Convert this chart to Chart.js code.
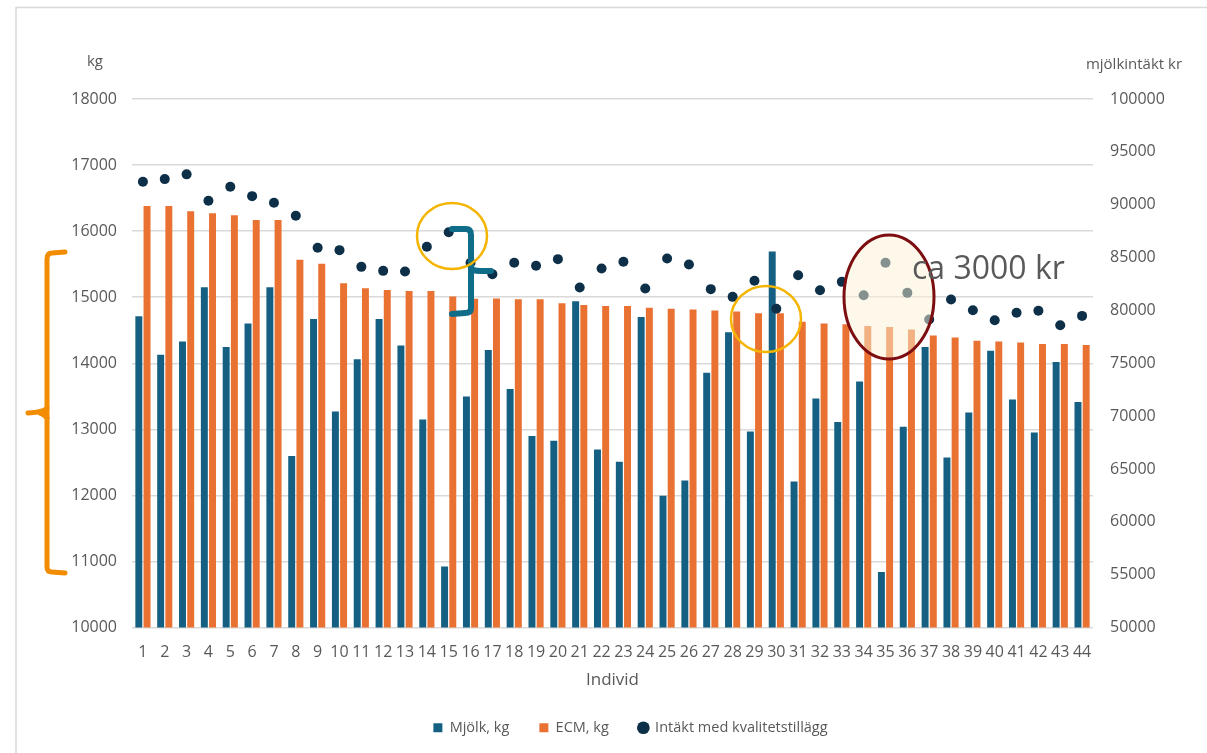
<!DOCTYPE html>
<html lang="sv">
<head>
<meta charset="UTF-8">
<title>Mjölk, ECM och intäkt per individ</title>
<script src="https://cdn.jsdelivr.net/npm/chart.js@4.4.1/dist/chart.umd.min.js"></script>
<style>
    html, body { margin:0; padding:0; background:#fff; }
</style>
</head>
<body>
<canvas id="myChart" width="1207" height="753"></canvas>
<script>
// individer 1..44
var v_labels = [];
for (var i = 1; i <= 44; i++) v_labels.push(String(i));

// Mjölk, kg (avläst)
var v_mjolk = [14710,14130,14330,15150,14245,14600,15150,12595,14670,13270,
               14060,14670,14270,13150,10925,13495,14200,13610,12900,12825,
               14940,12695,12510,14700,11995,12225,13855,14470,12965,15690,
               12210,13465,13110,13725,10840,13040,14245,12575,13255,14190,
               13450,12950,14020,13415];

// ECM, kg
var v_ecm = [16380,16380,16300,16270,16240,16170,16170,15565,15505,15210,
             15135,15110,15095,15095,15010,14975,14980,14970,14970,14910,
             14880,14865,14865,14840,14825,14815,14800,14785,14755,14755,
             14630,14600,14590,14565,14550,14510,14420,14390,14340,14330,
             14315,14290,14290,14275];

// Intäkt med kvalitetstillägg, kr (höger axel)
var v_intakt = [92170,92420,92870,90370,91700,90810,90180,88950,85920,85700,
                84120,83740,83680,86020,87400,84500,83430,84500,84220,84850,
                82170,83970,84600,82070,84910,84340,82010,81280,82800,80150,
                83330,81910,82700,81440,84500,81660,79140,81030,80020,79070,
                79770,79960,78600,79480];

var C_BLUE = '#156082';
var C_ORANGE = '#E97132';
var C_NAVY = '#0d3048';
var C_TEXT = '#595959';

Chart.defaults.font.family = "'Open Sans', 'Noto Sans', sans-serif";
Chart.defaults.color = C_TEXT;

// ritade markeringar ovanpå diagrammet
const notes = {
    id: 'notes',
    afterLayout(chart) {
        // legenden sitter lite till höger om mitten i originalet
        chart.legend.left += 27;
        chart.legend.right += 27;
    },
    beforeDraw(chart) {
        const c = chart.ctx;
        c.save();
        c.fillStyle = '#fff';
        c.fillRect(0, 0, chart.width, chart.height);
        c.strokeStyle = '#d9d9d9';
        c.lineWidth = 1.5;
        c.beginPath();
        c.moveTo(16, 760); c.lineTo(16, 7.5); c.lineTo(1207, 7.5);
        c.stroke();
        c.restore();
    },
    afterDatasetsDraw(chart) {
        const c = chart.ctx;
        c.save();
        c.lineCap = 'round';
        c.lineJoin = 'round';

        // orange hakparentes till vänster
        c.strokeStyle = '#F28C00';
        c.lineWidth = 5;
        c.beginPath();
        c.moveTo(65, 252);
        c.lineTo(52, 253);
        c.quadraticCurveTo(47, 253, 47, 259);
        c.lineTo(47, 567);
        c.quadraticCurveTo(47, 572, 52, 572);
        c.lineTo(65, 573);
        c.stroke();
        c.beginPath();
        c.moveTo(28, 413);
        c.quadraticCurveTo(44, 412, 47, 408);
        c.moveTo(47, 418);
        c.quadraticCurveTo(44, 414, 40, 413);
        c.stroke();

        // blå klammer
        c.strokeStyle = '#0f6d8a';
        c.lineWidth = 6;
        c.beginPath();
        c.moveTo(452, 229);
        c.lineTo(466, 229);
        c.quadraticCurveTo(471, 229, 471, 235);
        c.lineTo(471, 308);
        c.quadraticCurveTo(471, 313, 465, 313);
        c.lineTo(452, 314);
        c.moveTo(471, 268);
        c.quadraticCurveTo(473, 271, 480, 271);
        c.lineTo(491, 271);
        c.stroke();

        // gula ringar
        c.strokeStyle = '#F5B400';
        c.lineWidth = 2.5;
        c.beginPath();
        c.ellipse(452, 236, 35, 33, 0, 0, Math.PI * 2);
        c.stroke();
        c.beginPath();
        c.ellipse(766, 319, 35, 33, 0, 0, Math.PI * 2);
        c.stroke();

        // mörkröd ellips
        c.beginPath();
        c.ellipse(889, 297, 45, 62, 0, 0, Math.PI * 2);
        c.fillStyle = 'rgba(252,242,212,0.5)';
        c.fill();
        c.strokeStyle = '#7c0d10';
        c.lineWidth = 3;
        c.stroke();
        c.restore();
    },
    afterDraw(chart) {
        const c = chart.ctx;
        c.save();
        c.fillStyle = C_TEXT;
        c.textBaseline = 'middle';
        c.textAlign = 'center';
        c.font = "15px 'Open Sans', sans-serif";
        c.fillText('kg', 95, 62);
        c.fillText('mjölkintäkt kr', 1134, 65);
        c.textAlign = 'left';
        c.font = "32px 'Open Sans', sans-serif";
        c.fillText('ca 3000 kr', 912, 270);
        c.restore();
    }
};

function f_plain(v) { return String(v); } // inga tusentalsavgränsare

const ctx = document.getElementById('myChart').getContext('2d');
const myChart = new Chart(ctx, {
    type: 'bar',
    data: {
        labels: v_labels,
        datasets: [
            {
                label: 'Mjölk, kg',
                data: v_mjolk,
                backgroundColor: C_BLUE,
                yAxisID: 'y',
                order: 1,
                pointStyle: 'rect',
                categoryPercentage: 0.75,
                barPercentage: 0.85
            },
            {
                label: 'ECM, kg',
                data: v_ecm,
                backgroundColor: C_ORANGE,
                yAxisID: 'y',
                order: 1,
                pointStyle: 'rect',
                categoryPercentage: 0.75,
                barPercentage: 0.85
            },
            {
                type: 'line',
                label: 'Intäkt med kvalitetstillägg',
                data: v_intakt,
                yAxisID: 'y1',
                showLine: false,
                order: 0,
                pointStyle: 'circle',
                pointRadius: 5,
                pointHoverRadius: 5,
                backgroundColor: C_NAVY,
                borderColor: C_NAVY,
                borderWidth: 0
            }
        ]
    },
    options: {
        responsive: false,
        animation: false,
        layout: { padding: { left: 0, right: 0, top: 99, bottom: 8 } },
        plugins: {
            legend: {
                position: 'bottom',
                labels: {
                    usePointStyle: true,
                    boxWidth: 9,
                    boxHeight: 9,
                    padding: 30,
                    color: C_TEXT,
                    font: { size: 14.5 },
                    sort: function (a, b) { return a.datasetIndex - b.datasetIndex; }
                }
            },
            tooltip: { enabled: false }
        },
        scales: {
            x: {
                grid: { display: false, drawTicks: false },
                border: { display: false },
                ticks: { autoSkip: false, maxRotation: 0, padding: 15, font: { size: 16 }, color: C_TEXT },
                title: { display: true, text: 'Individ', font: { size: 17 }, color: C_TEXT, padding: 0 },
                afterFit: function (s) { s.height = 63; }
            },
            y: {
                position: 'left',
                min: 10000,
                max: 18000,
                ticks: { stepSize: 1000, padding: 15, font: { size: 16 }, color: C_TEXT, callback: f_plain },
                grid: { color: '#d9d9d9', lineWidth: 1.5, drawTicks: false },
                border: { display: false },
                afterFit: function (s) { s.width = 132; }
            },
            y1: {
                position: 'right',
                min: 50000,
                max: 100000,
                ticks: { stepSize: 5000, padding: 17, font: { size: 16 }, color: C_TEXT, callback: f_plain },
                grid: { display: false, drawTicks: false },
                border: { display: false },
                afterFit: function (s) { s.width = 114; }
            }
        }
    },
    plugins: [notes]
});
</script>
</body>
</html>
